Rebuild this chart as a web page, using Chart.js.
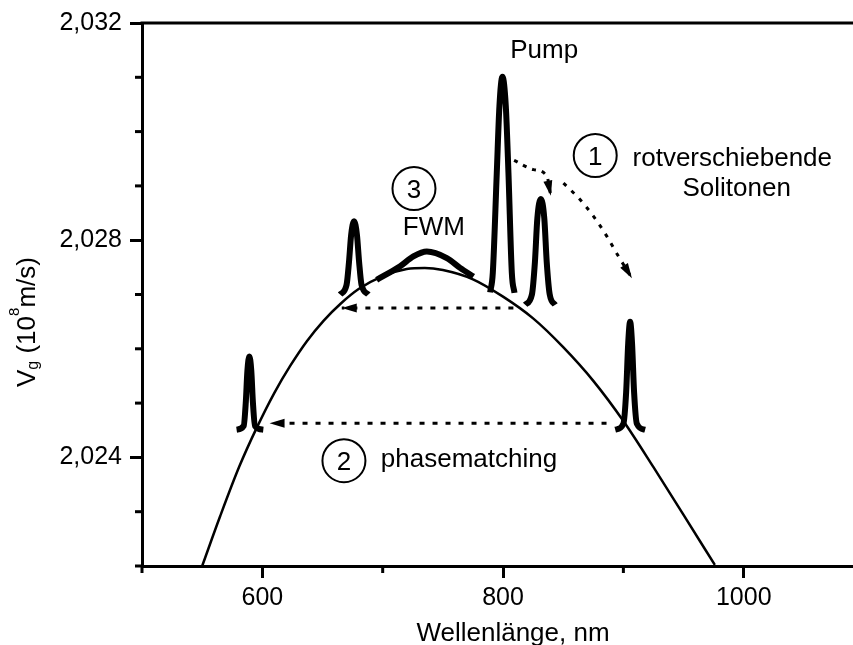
<!DOCTYPE html>
<html>
<head>
<meta charset="utf-8">
<script src="https://cdn.jsdelivr.net/npm/chart.js@4/dist/chart.umd.min.js"></script>
<style>
  html, body { margin: 0; padding: 0; background: #fff; }
  canvas { display: block; }
</style>
</head>
<body>
<canvas id="chart" width="853" height="645"></canvas>
<script>
// Gruppengeschwindigkeit über Wellenlänge
const curveNm = [550, 565, 581, 595, 610, 623, 637, 651, 665, 680, 700, 720, 735, 750,
                 775, 800, 825, 850, 875, 900, 925, 950, 976];
const curveVg = [2.02200, 2.02292, 2.02384, 2.02453, 2.02519, 2.02568, 2.02614, 2.02652, 2.02683,
                 2.02710, 2.02734, 2.02747, 2.02749, 2.02745, 2.02728, 2.02696, 2.02656, 2.02603,
                 2.02541, 2.02467, 2.02382, 2.02294, 2.02202];

// Pulse (dicke Linien)
const pulse590Nm = [578.6, 584.5, 586.2, 587.6, 589.2, 590.8, 592.2, 593.9, 600.8];
const pulse590Vg = [2.02451, 2.02458, 2.02500, 2.02560, 2.02586, 2.02560, 2.02500, 2.02458, 2.02451];
const pulse675Nm = [664.6, 670.0, 672.0, 673.8, 676.2, 678.6, 680.4, 682.4, 688.1];
const pulse675Vg = [2.02700, 2.02718, 2.02760, 2.02810, 2.02835, 2.02810, 2.02760, 2.02718, 2.02700];
const fwmNm = [695.0, 714.5, 725.5, 736.7, 753.3, 764.3, 775.4];
const fwmVg = [2.02727, 2.02752, 2.02770, 2.02779, 2.02767, 2.02749, 2.02733];
const pumpNm = [789.3, 791.5, 794.8, 797.0, 799.5, 802.3, 804.5, 807.3, 809.5];
const pumpVg = [2.02704, 2.02740, 2.02924, 2.03047, 2.03101, 2.03047, 2.02924, 2.02740, 2.02703];
const pulse833Nm = [818.4, 824.0, 826.5, 828.5, 831.4, 834.3, 836.3, 838.8, 843.3];
const pulse833Vg = [2.02681, 2.02700, 2.02760, 2.02840, 2.02876, 2.02840, 2.02760, 2.02700, 2.02681];
const pulse905Nm = [893.2, 900.0, 902.3, 904.0, 905.6, 907.2, 908.9, 911.2, 918.1];
const pulse905Vg = [2.02451, 2.02462, 2.02520, 2.02610, 2.02650, 2.02610, 2.02520, 2.02462, 2.02451];

// Pfeile (gepunktet), letzter Punkt = Spitze
const arrowHighNm = [808.6, 666.0];
const arrowHighVg = [2.02675, 2.02675];
const arrowLowNm = [886.0, 606.0];
const arrowLowVg = [2.02463, 2.02463];
const arrowANm = [809.2, 825.3, 836.4, 839.7];
const arrowAVg = [2.02947, 2.02930, 2.02918, 2.02882];
const arrowBNm = [850.2, 862.7, 875.2, 886.3, 896.0, 907.1];
const arrowBVg = [2.02905, 2.02878, 2.02844, 2.02807, 2.02770, 2.02730];

// Beschriftungen
const circleLabels = ['1', '2', '3'];
const circleNm = [876.6, 667.8, 726.0];
const circleVg = [2.02956, 2.02394, 2.02895];
const textLabels = ['Pump', 'rotverschiebende', 'Solitonen', 'FWM', 'phasematching'];
const textNm = [834.2, 990.5, 994.1, 742.5, 771.7];
const textVg = [2.03136, 2.02936, 2.02881, 2.02810, 2.02382];

// Achsenteilung
const xTicks = [500, 600, 700, 800, 900, 1000];
const xMajor = [600, 800, 1000];
const yTicks = [2.022, 2.023, 2.024, 2.025, 2.026, 2.027, 2.028, 2.029, 2.030, 2.031, 2.032];
const yMajor = [2.024, 2.028, 2.032];

const FONT = '"Liberation Sans", Arial, Helvetica, sans-serif';

function pts(xs, ys) {
    return xs.map((x, i) => ({ x: x, y: ys[i] }));
}
function isMajorX(v) { return xMajor.some(m => Math.abs(m - v) < 0.5); }
function isMajorY(v) { return yMajor.some(m => Math.abs(m - v) < 0.0001); }

const thick = { borderColor: '#000', borderWidth: 6, pointRadius: 0, cubicInterpolationMode: 'monotone', borderCapStyle: 'butt' };
const dotted = { borderColor: '#000', borderWidth: 3, pointRadius: 0, borderDash: [5, 8], arrowHead: true };

// kleine Zwischenstriche, Pfeilspitzen, Rahmen und Texte
const extras = {
    id: 'extras',
    afterDatasetsDraw(chart) {
        const ctx = chart.ctx;
        ctx.save();
        ctx.fillStyle = '#000';
        chart.data.datasets.forEach((ds, i) => {
            if (!ds.arrowHead) return;
            const p = chart.getDatasetMeta(i).data;
            const a = p[p.length - 2], b = p[p.length - 1];
            const dx = b.x - a.x, dy = b.y - a.y, len = Math.hypot(dx, dy);
            const ux = dx / len, uy = dy / len;
            const L = 15, W = 4.5;
            ctx.beginPath();
            ctx.moveTo(b.x, b.y);
            ctx.lineTo(b.x - ux * L - uy * W, b.y - uy * L + ux * W);
            ctx.lineTo(b.x - ux * L + uy * W, b.y - uy * L - ux * W);
            ctx.closePath();
            ctx.fill();
        });
        ctx.restore();
    },
    afterDraw(chart) {
        const ctx = chart.ctx;
        const xs = chart.scales.x, ys = chart.scales.y;
        const area = chart.chartArea;
        ctx.save();
        ctx.strokeStyle = '#000';
        ctx.fillStyle = '#000';
        ctx.lineWidth = 3;
        // oberer Rahmen
        ctx.beginPath();
        ctx.moveTo(area.left - 1.5, area.top);
        ctx.lineTo(area.right, area.top);
        ctx.stroke();
        // kleine Ticks
        xs.ticks.forEach(t => {
            if (isMajorX(t.value)) return;
            const px = xs.getPixelForValue(t.value);
            ctx.beginPath();
            ctx.moveTo(px, area.bottom);
            ctx.lineTo(px, area.bottom + 7);
            ctx.stroke();
        });
        ys.ticks.forEach(t => {
            if (isMajorY(t.value)) return;
            const py = ys.getPixelForValue(t.value);
            ctx.beginPath();
            ctx.moveTo(area.left, py);
            ctx.lineTo(area.left - 7, py);
            ctx.stroke();
        });
        // Kreise mit Nummern
        ctx.lineWidth = 2;
        ctx.textAlign = 'center';
        ctx.textBaseline = 'alphabetic';
        ctx.font = '26px ' + FONT;
        circleLabels.forEach((lab, i) => {
            const cx = xs.getPixelForValue(circleNm[i]);
            const cy = ys.getPixelForValue(circleVg[i]);
            ctx.beginPath();
            ctx.arc(cx, cy, 21.5, 0, Math.PI * 2);
            ctx.stroke();
            ctx.fillText(lab, cx, cy + 9.5);
        });
        textLabels.forEach((lab, i) => {
            ctx.fillText(lab, xs.getPixelForValue(textNm[i]), ys.getPixelForValue(textVg[i]));
        });
        // Achsentitel
        ctx.fillText('Wellenlänge, nm', 513, 641);
        ctx.translate(35, 387);
        ctx.rotate(-Math.PI / 2);
        ctx.textAlign = 'left';
        let x = 0;
        const part = (s, size, dy) => {
            ctx.font = size + 'px ' + FONT;
            ctx.fillText(s, x, dy);
            x += ctx.measureText(s).width;
        };
        part('V', 26, 0);
        part('g', 16, 3);
        part(' (10', 26, 0);
        part('8', 15, -16);
        part('m/s)', 26, 0);
        ctx.restore();
    }
};

new Chart(document.getElementById('chart'), {
    type: 'scatter',
    data: {
        datasets: [
            { label: 'Vg', data: pts(curveNm, curveVg), borderColor: '#000', borderWidth: 2.5, pointRadius: 0, cubicInterpolationMode: 'monotone' },
            Object.assign({ label: 'Puls 590', data: pts(pulse590Nm, pulse590Vg) }, thick),
            Object.assign({ label: 'Puls 675', data: pts(pulse675Nm, pulse675Vg) }, thick),
            Object.assign({ label: 'FWM', data: pts(fwmNm, fwmVg) }, thick),
            Object.assign({ label: 'Pump', data: pts(pumpNm, pumpVg) }, thick),
            Object.assign({ label: 'Puls 833', data: pts(pulse833Nm, pulse833Vg) }, thick),
            Object.assign({ label: 'Puls 905', data: pts(pulse905Nm, pulse905Vg) }, thick),
            Object.assign({ label: 'Pfeil oben', data: pts(arrowHighNm, arrowHighVg) }, dotted),
            Object.assign({ label: 'Pfeil unten', data: pts(arrowLowNm, arrowLowVg) }, dotted),
            Object.assign({ label: 'Pfeil A', data: pts(arrowANm, arrowAVg), cubicInterpolationMode: 'monotone' }, dotted, { borderDash: [4, 6] }),
            Object.assign({ label: 'Pfeil B', data: pts(arrowBNm, arrowBVg), cubicInterpolationMode: 'monotone' }, dotted, { borderDash: [4, 7] })
        ].map(d => Object.assign({ showLine: true, fill: false }, d))
    },
    options: {
        responsive: false,
        animation: false,
        devicePixelRatio: 1,
        layout: { padding: { top: 23, right: 0, bottom: 0, left: 0 } },
        plugins: { legend: { display: false }, tooltip: { enabled: false } },
        scales: {
            x: {
                type: 'linear', min: 500, max: 1090.8,
                afterFit: s => { s.height = 79; },
                afterBuildTicks: s => { s.ticks = xTicks.map(v => ({ value: v })); },
                border: { display: true, color: '#000', width: 3 },
                grid: {
                    drawOnChartArea: false, drawTicks: true, tickLength: 12, tickWidth: 3,
                    tickColor: c => (c.tick && isMajorX(c.tick.value)) ? '#000' : 'rgba(0,0,0,0)'
                },
                ticks: {
                    autoSkip: false, maxRotation: 0, padding: 5, color: '#000',
                    font: { family: FONT, size: 25 },
                    callback: v => isMajorX(v) ? String(Math.round(v)) : ''
                }
            },
            y: {
                type: 'linear', min: 2.022, max: 2.032,
                afterFit: s => { s.width = 142; },
                afterBuildTicks: s => { s.ticks = yTicks.map(v => ({ value: v })); },
                border: { display: true, color: '#000', width: 3 },
                grid: {
                    drawOnChartArea: false, drawTicks: true, tickLength: 12, tickWidth: 3,
                    tickColor: c => (c.tick && isMajorY(c.tick.value)) ? '#000' : 'rgba(0,0,0,0)'
                },
                ticks: {
                    autoSkip: false, padding: 8, color: '#000',
                    font: { family: FONT, size: 25 },
                    callback: v => isMajorY(v) ? v.toFixed(3).replace('.', ',') : ''
                }
            }
        }
    },
    plugins: [extras]
});
</script>
</body>
</html>
